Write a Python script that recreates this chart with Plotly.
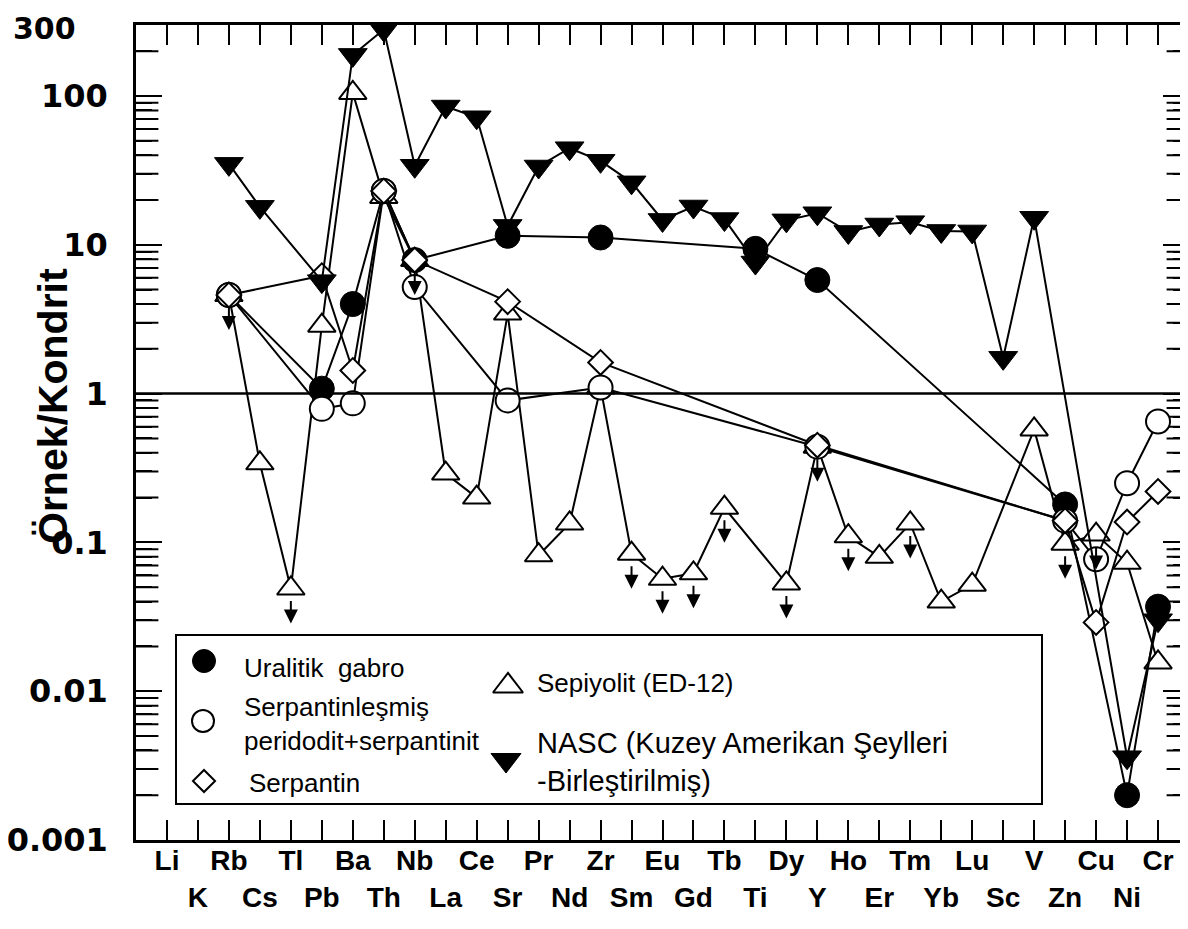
import math
import plotly.graph_objects as go

# ---------------- data ----------------
ELEMENTS = ["Li", "K", "Rb", "Cs", "Tl", "Pb", "Ba", "Th", "Nb", "La", "Ce", "Sr", "Pr",
            "Nd", "Zr", "Sm", "Eu", "Gd", "Tb", "Ti", "Dy", "Y", "Ho", "Er", "Tm", "Yb",
            "Lu", "Sc", "V", "Zn", "Cu", "Ni", "Cr"]

GABRO_EL = ["Rb", "Pb", "Ba", "Th", "Nb", "Sr", "Zr", "Ti", "Y", "Zn", "Ni", "Cr"]
GABRO_VAL = [4.6, 1.08, 4.0, 23, 7.9, 11.5, 11.2, 9.4, 5.8, 0.18, 0.002, 0.037]

PERID_EL = ["Rb", "Pb", "Ba", "Th", "Nb", "Sr", "Zr", "Y", "Zn", "Cu", "Ni", "Cr"]
PERID_VAL = [4.6, 0.79, 0.86, 23, 5.2, 0.90, 1.10, 0.44, 0.14, 0.077, 0.25, 0.65]

SERP_EL = ["Rb", "Pb", "Ba", "Th", "Nb", "Sr", "Zr", "Y", "Zn", "Cu", "Ni", "Cr"]
SERP_VAL = [4.6, 6.2, 1.43, 23, 7.9, 4.15, 1.62, 0.45, 0.14, 0.029, 0.137, 0.22]

SEP_EL = ["Rb", "Cs", "Tl", "Pb", "Ba", "Th", "Nb", "La", "Ce", "Sr", "Pr", "Nd", "Zr",
          "Sm", "Eu", "Gd", "Tb", "Dy", "Y", "Ho", "Er", "Tm", "Yb", "Lu", "V", "Zn",
          "Cu", "Ni", "Cr"]
SEP_VAL = [4.6, 0.34, 0.049, 2.86, 105, 21, 7.9, 0.29, 0.20, 3.45, 0.082, 0.134, 1.10,
           0.084, 0.057, 0.062, 0.171, 0.053, 0.44, 0.11, 0.080, 0.134, 0.040, 0.052,
           0.575, 0.098, 0.113, 0.073, 0.0156]
SEP_LIMITS = ["Rb", "Nb", "Tl", "Sm", "Eu", "Gd", "Tb", "Dy", "Y", "Ho", "Tm", "Zn", "Cu"]

NASC_EL = ["Rb", "Cs", "Pb", "Ba", "Th", "Nb", "La", "Ce", "Sr", "Pr", "Nd", "Zr", "Sm",
           "Eu", "Gd", "Tb", "Ti", "Dy", "Y", "Ho", "Er", "Tm", "Yb", "Lu", "Sc", "V",
           "Ni", "Cr"]
NASC_VAL = [35, 18, 5.7, 189, 280, 34, 85, 72, 13.4, 33.6, 44.6, 36.7, 26.3, 14.7, 18.1,
            14.9, 7.6, 14.6, 16.3, 12.2, 13.7, 14.2, 12.4, 12.3, 1.74, 15.2, 0.0036, 0.030]

Y_TICKS = [0.001, 0.01, 0.1, 1, 10, 100, 300]
Y_TICK_TEXT = ["0.001", "0.01", "0.1", "1", "10", "100", ""]
TOP_LABEL = "300"
REF_LINE = 1
X_RANGE = [-1, 33]
Y_RANGE = [-3, math.log10(300.2)]

LEGEND_LABELS = ["Uralitik\u00a0 gabro",
                 "Serpantinleşmiş<br>peridodit+serpantinit",
                 "Serpantin",
                 "Sepiyolit (ED-12)",
                 "NASC (Kuzey Amerikan Şeylleri<br>-Birleştirilmiş)"]

# ---------------- geometry helpers (layout only) ----------------
W, H = 1188, 929
L, R, T, B = 128, 7, 17, 97
PW, PH = W - L - R, H - T - B


def px(x):
    return (x - L) / PW


def py(y):
    return (H - B - y) / PH


def idx(els):
    return [ELEMENTS.index(e) for e in els]


BLACK = "black"
fig = go.Figure()

# minor log tick positions (2..9 per decade)
minor_vals = [m * 10 ** k for k in range(-3, 3) for m in range(2, 10) if m * 10 ** k < 300]

# empty carrier traces for the two minor-tick axes
fig.add_trace(go.Scatter(x=[None], y=[None], yaxis="y3", showlegend=False, hoverinfo="skip"))
fig.add_trace(go.Scatter(x=[None], y=[None], yaxis="y4", showlegend=False, hoverinfo="skip"))

# minor ticks also drawn as clipped tick marks on the frame
fig.add_trace(go.Scatter(
    x=[X_RANGE[0]] * len(minor_vals) + [X_RANGE[1]] * len(minor_vals),
    y=minor_vals + minor_vals, mode="markers", cliponaxis=True,
    marker=dict(symbol="line-ew", size=32, color=BLACK, line=dict(color=BLACK, width=2)),
    showlegend=False, hoverinfo="skip",
))

styles = {
    "sep": dict(symbol="triangle-up", size=24, color="white", line=dict(color=BLACK, width=2)),
    "gab": dict(symbol="circle", size=25, color=BLACK, line=dict(color=BLACK, width=1)),
    "per": dict(symbol="circle", size=24, color="white", line=dict(color=BLACK, width=2)),
    "ser": dict(symbol="diamond", size=19, color="white", line=dict(color=BLACK, width=2)),
    "nas": dict(symbol="triangle-down", size=25, color=BLACK, line=dict(color=BLACK, width=1)),
}

series = [
    ("Sepiyolit (ED-12)", SEP_EL, SEP_VAL, "sep"),
    ("Uralitik gabro", GABRO_EL, GABRO_VAL, "gab"),
    ("Serpantinleşmiş peridodit+serpantinit", PERID_EL, PERID_VAL, "per"),
    ("Serpantin", SERP_EL, SERP_VAL, "ser"),
    ("NASC", NASC_EL, NASC_VAL, "nas"),
]

for name, els, vals, key in series:
    fig.add_trace(go.Scatter(
        x=idx(els), y=vals, mode="lines+markers", name=name,
        line=dict(color=BLACK, width=2), marker=styles[key],
        showlegend=False, cliponaxis=True,
    ))

# upper-limit arrows for Sepiyolit
annotations = []
for e in SEP_LIMITS:
    v = SEP_VAL[SEP_EL.index(e)]
    annotations.append(dict(
        x=ELEMENTS.index(e), y=math.log10(v) - 0.235, xref="x", yref="y",
        text="", showarrow=True, ax=0, ay=-24, arrowhead=2, arrowsize=1.4,
        arrowwidth=2, arrowcolor=BLACK, standoff=0, startstandoff=0,
    ))

# top y label (sits left of the others in the original)
annotations.append(dict(
    x=px(70), y=py(21), xref="paper", yref="paper", text=TOP_LABEL, showarrow=False,
    xanchor="right", yanchor="middle",
    font=dict(family="DejaVu Sans", size=30, color=BLACK, weight="bold"),
))

# y-axis title
annotations.append(dict(
    x=px(45), y=py(398), xref="paper", yref="paper", text="<b>Örnek/Kondrit</b>",
    textangle=-90, showarrow=False, xanchor="center", yanchor="middle",
    font=dict(family="Liberation Sans Narrow, Liberation Sans, Arial", size=41, color=BLACK),
))

# manual legend
leg_text = [(234, 660, 26), (234, 716, 26), (239, 775, 26), (527, 675, 26), (527, 754, 29)]
for lab, (tx, ty, fs) in zip(LEGEND_LABELS, leg_text):
    annotations.append(dict(
        x=px(tx), y=py(ty), xref="paper", yref="paper", text=lab, showarrow=False,
        xanchor="left", yanchor="middle", align="left",
        font=dict(family="Liberation Sans, Arial", size=fs, color=BLACK),
    ))

leg_marker_pos = [("gab", 196, 653, 23), ("per", 195, 713, 22), ("ser", 196, 773, 17),
                  ("sep", 500, 678, 26), ("nas", 498, 752, 26)]
for key, mx, my, ms in leg_marker_pos:
    st = dict(styles[key])
    st["size"] = ms
    fig.add_trace(go.Scatter(
        x=[px(mx)], y=[py(my)], xaxis="x2", yaxis="y2", mode="markers",
        marker=st, showlegend=False, hoverinfo="skip",
    ))

shapes = [
    # reference line at 1
    dict(type="line", xref="paper", yref="y", x0=0, x1=1, y0=REF_LINE, y1=REF_LINE,
         line=dict(color=BLACK, width=2.5)),
    # legend frame
    dict(type="rect", xref="paper", yref="paper", x0=px(168), x1=px(1034),
         y0=py(796), y1=py(627), line=dict(color=BLACK, width=2),
         fillcolor="rgba(0,0,0,0)", layer="above"),
]

minor_axis = dict(
    overlaying="y", type="log", range=Y_RANGE, tickmode="array", tickvals=minor_vals,
    ticks="inside", ticklen=16, tickwidth=2, tickcolor=BLACK, showticklabels=False,
    showgrid=False, zeroline=False, showline=False, fixedrange=True, automargin=False,
)

fig.update_layout(
    width=W, height=H,
    margin=dict(l=L, r=R, t=T, b=B, autoexpand=False),
    paper_bgcolor="white", plot_bgcolor="white",
    showlegend=False,
    xaxis=dict(
        range=X_RANGE, tickmode="array", tickvals=list(range(len(ELEMENTS))),
        ticktext=[e if i % 2 == 0 else "<br>" + e for i, e in enumerate(ELEMENTS)],
        tickangle=0, automargin=False,
        ticks="inside", ticklen=20, tickwidth=2, tickcolor=BLACK,
        showline=True, linewidth=2.5, linecolor=BLACK, mirror="ticks",
        showgrid=False, zeroline=False, ticklabelstandoff=-6,
        tickfont=dict(family="Liberation Sans, Arial", size=28, color=BLACK, weight="bold"),
    ),
    yaxis=dict(
        type="log", range=Y_RANGE, tickmode="array",
        tickvals=Y_TICKS, ticktext=Y_TICK_TEXT, ticklabeloverflow="allow",
        automargin=False,
        ticks="inside", ticklen=26, tickwidth=2, tickcolor=BLACK,
        showline=True, linewidth=2.5, linecolor=BLACK, mirror="ticks",
        showgrid=False, zeroline=False, ticklabelstandoff=19,
        tickfont=dict(family="DejaVu Sans", size=32, color=BLACK, weight="bold"),
    ),
    yaxis3=dict(minor_axis, side="left"),
    yaxis4=dict(minor_axis, side="right"),
    xaxis2=dict(overlaying="x", range=[0, 1], visible=False, fixedrange=True),
    yaxis2=dict(overlaying="y", range=[0, 1], visible=False, fixedrange=True),
)
fig.layout.shapes = shapes
fig.layout.annotations = annotations

fig.write_html("out.html")
